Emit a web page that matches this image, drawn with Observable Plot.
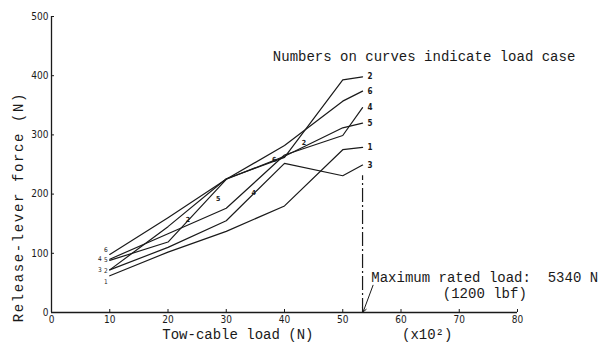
<!DOCTYPE html>
<html>
<head>
<meta charset="utf-8">
<script src="https://cdn.jsdelivr.net/npm/d3@7"></script>
<script src="https://cdn.jsdelivr.net/npm/@observablehq/plot@0.6"></script>
<style>
  html, body { margin: 0; padding: 0; background: #fff; }
  #chart svg { display: block; }
</style>
</head>
<body>
<div id="chart"></div>
<script>
// Tow-cable load (x10^2 N) at which each load case was measured
const loads = [10, 20, 30, 40, 50, 53.4];
// Release-lever force (N) for each load case
const case1 = [62, 102, 137, 180, 275, 279];
const case2 = [72, 145, 226, 262, 393, 398];
const case3 = [72, 110, 155, 252, 231, 249];
const case4 = [90, 133, 176, 266, 299, 346];
const case5 = [88, 119, 225, 264, 312, 320];
const case6 = [98, 160, 225, 282, 357, 374];
const caseNames = ["1", "2", "3", "4", "5", "6"];
const caseValues = [case1, case2, case3, case4, case5, case6];
// loads at which a case number is also written along its curve
const midLabelCases = ["2", "5", "6", "2", "4"];
const midLabelLoads = [22.7, 27.9, 37.5, 42.6, 34];
const xTicks = [0, 10, 20, 30, 40, 50, 60, 70, 80];
const yTicks = [0, 100, 200, 300, 400, 500];
const maxLoad = 53.4;       // 5340 N
const maxLineTop = 231;

const rows = [];
caseNames.forEach((c, i) => loads.forEach((x, j) => rows.push({c, x, y: caseValues[i][j]})));
const last = loads.length - 1;
const ends = caseNames.map((c, i) => ({c, x: loads[last], y: caseValues[i][last]}));
const startDx = {"1": -2, "2": -2, "3": -8, "4": -8, "5": -2, "6": -2};
const startDy = {"1": 6, "2": 1, "3": 0, "4": 0, "5": 0, "6": -5};
const starts = caseNames.map((c, i) => ({c, x: loads[0], y: caseValues[i][0]}));
const interp = (c, x) => {
  const v = caseValues[caseNames.indexOf(c)];
  return d3.scaleLinear(loads, v)(x);
};
const mids = midLabelCases.map((c, k) => ({c, x: midLabelLoads[k], y: interp(c, midLabelLoads[k])}));

const mono = "'Liberation Mono', 'DejaVu Sans Mono', monospace";
const narrow = "'Liberation Sans Narrow', 'DejaVu Sans Condensed', sans-serif";
const ink = "#1a1a1a";

const chart = Plot.plot({
  width: 602,
  height: 342,
  marginLeft: 51,
  marginRight: 85,
  marginTop: 16,
  marginBottom: 30,
  style: {fontFamily: mono, background: "#fff", color: ink},
  x: {domain: [0, 80]},
  y: {domain: [0, 500]},
  marks: [
    Plot.ruleY([0], {x1: 0, x2: 80, stroke: ink, strokeWidth: 1.3}),
    Plot.ruleX([0], {y1: 0, y2: 500, stroke: ink, strokeWidth: 1.3}),
    Plot.axisX({ticks: xTicks, tickSize: -3, tickPadding: 6, fontFamily: narrow, fontSize: 10, stroke: ink, fill: ink, label: null}),
    Plot.axisY({ticks: yTicks, tickSize: -3, tickPadding: 6, fontFamily: narrow, fontSize: 10, stroke: ink, fill: ink, label: null}),
    Plot.line(rows, {x: "x", y: "y", z: "c", stroke: ink, strokeWidth: 1.2}),
    Plot.text(ends, {x: "x", y: "y", text: "c", dx: 5, textAnchor: "start", fontFamily: narrow, fontSize: 8, fontWeight: "bold", fill: ink}),
    ...starts.map(s => Plot.text([s], {x: "x", y: "y", text: "c", dx: startDx[s.c], dy: startDy[s.c], textAnchor: "end", fontFamily: narrow, fontSize: 6.5, fill: ink})),
    Plot.text(mids, {x: "x", y: "y", text: "c", dx: 2, dy: 6, textAnchor: "start", fontFamily: narrow, fontSize: 7, fontWeight: "bold", fill: ink}),
    Plot.ruleX([maxLoad], {y1: 0, y2: maxLineTop, stroke: ink, strokeWidth: 1.2, strokeDasharray: "14,3,2,3"}),
    Plot.arrow([{x1: 55.2, y1: 46, x2: maxLoad + 0.1, y2: 1}], {x1: "x1", y1: "y1", x2: "x2", y2: "y2", stroke: ink, strokeWidth: 1, headLength: 6, bend: 0}),
    Plot.text(["Numbers on curves indicate load case"], {x: 38, y: 433, text: d => d, textAnchor: "start", fontSize: 14, fill: ink}),
    Plot.text(["Maximum rated load:  5340 N"], {x: 54.9, y: 59, text: d => d, textAnchor: "start", fontSize: 14, fill: ink}),
    Plot.text(["(1200 lbf)"], {x: 81.6, y: 32, text: d => d, textAnchor: "end", fontSize: 14, fill: ink}),
    Plot.text(["Tow-cable load (N)"], {x: 32, y: -38, text: d => d, textAnchor: "middle", fontSize: 14, fill: ink}),
    Plot.text(["(x10²)"], {x: 64.5, y: -38, text: d => d, textAnchor: "middle", fontSize: 14, fill: ink}),
    Plot.text(["Release-lever force (N)"], {x: -5.6, y: 178, text: d => d, rotate: -90, textAnchor: "middle", fontSize: 14, fill: ink})
  ]
});
d3.select(chart).selectAll("text")
  .filter(function () { return this.textContent === "Release-lever force (N)"; })
  .style("letter-spacing", "1.6px");
document.getElementById("chart").appendChild(chart);
</script>
</body>
</html>
